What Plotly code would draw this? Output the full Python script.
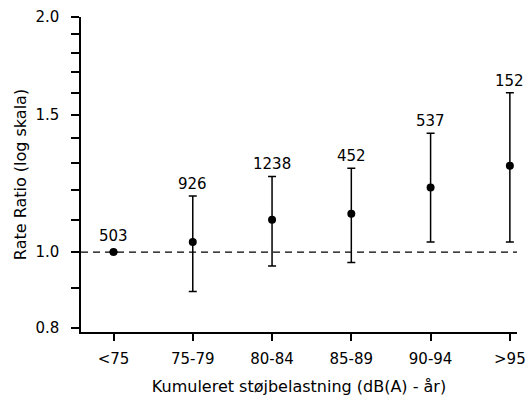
import numpy as np
import plotly.graph_objects as go

categories = ["<75", "75-79", "80-84", "85-89", "90-94", ">95"]
rate_ratio = [1.00, 1.03, 1.10, 1.12, 1.21, 1.29]
ci_lower = [None, 0.89, 0.96, 0.97, 1.03, 1.03]
ci_upper = [None, 1.18, 1.25, 1.28, 1.42, 1.60]
n_cases = [503, 926, 1238, 452, 537, 152]

y_tick_vals = [0.8, 1.0, 1.5, 2.0]
y_tick_text = ["0.8", "1.0", "1.5", "2.0"]
y_minor_vals = [0.9, 1.1, 1.2, 1.3, 1.4, 1.6, 1.7, 1.8, 1.9]

FONT = "DejaVu Sans"
x_idx = list(range(len(categories)))

err_plus = [None if u is None else u - r for u, r in zip(ci_upper, rate_ratio)]
err_minus = [None if l is None else r - l for l, r in zip(ci_lower, rate_ratio)]

fig = go.Figure()
fig.add_trace(go.Scatter(
    x=x_idx, y=rate_ratio, mode="markers",
    marker=dict(color="black", size=8),
    error_y=dict(type="data", symmetric=False, array=err_plus, arrayminus=err_minus,
                 color="black", thickness=1.5, width=4),
    showlegend=False, hoverinfo="skip",
))

fig.add_hline(y=1.0, line=dict(color="black", width=1.2, dash="7px,5px"))

for i, n in enumerate(n_cases):
    has_ci = ci_upper[i] is not None
    fig.add_annotation(
        x=x_idx[i], y=np.log10(ci_upper[i] if has_ci else rate_ratio[i]),
        text=str(n), showarrow=False, yanchor="bottom", xanchor="center",
        yshift=1 if has_ci else 5,
        font=dict(family=FONT, size=15, color="black"),
    )

fig.update_layout(
    width=528, height=396,
    margin=dict(l=81, r=11, t=17, b=64),
    paper_bgcolor="white", plot_bgcolor="white",
    font=dict(family=FONT, size=15, color="black"),
    xaxis=dict(
        range=[-0.41, 5.09], tickvals=x_idx, ticktext=categories,
        showline=True, linecolor="black", linewidth=1.5,
        ticks="outside", ticklen=7, tickwidth=1.5, tickcolor="black",
        showgrid=False, zeroline=False, ticklabelstandoff=5, automargin=False,
        tickfont=dict(family=FONT, size=15),
        title=dict(text="Kumuleret støjbelastning (dB(A) - år)", standoff=14,
                   font=dict(family=FONT, size=16)),
    ),
    yaxis=dict(
        type="log", range=[np.log10(0.79), np.log10(2.0)],
        tickvals=y_tick_vals, ticktext=y_tick_text,
        showline=True, linecolor="black", linewidth=1.5,
        ticks="outside", ticklen=8, tickwidth=1.5, tickcolor="black",
        minor=dict(tickvals=y_minor_vals, ticks="outside", ticklen=8,
                   tickwidth=1.5, tickcolor="black", showgrid=False),
        showgrid=False, zeroline=False, ticklabelstandoff=9, automargin=False,
        tickfont=dict(family=FONT, size=15),
        title=dict(text="Rate Ratio (log skala)", standoff=5,
                   font=dict(family=FONT, size=16)),
    ),
)

fig.write_html("out.html")
